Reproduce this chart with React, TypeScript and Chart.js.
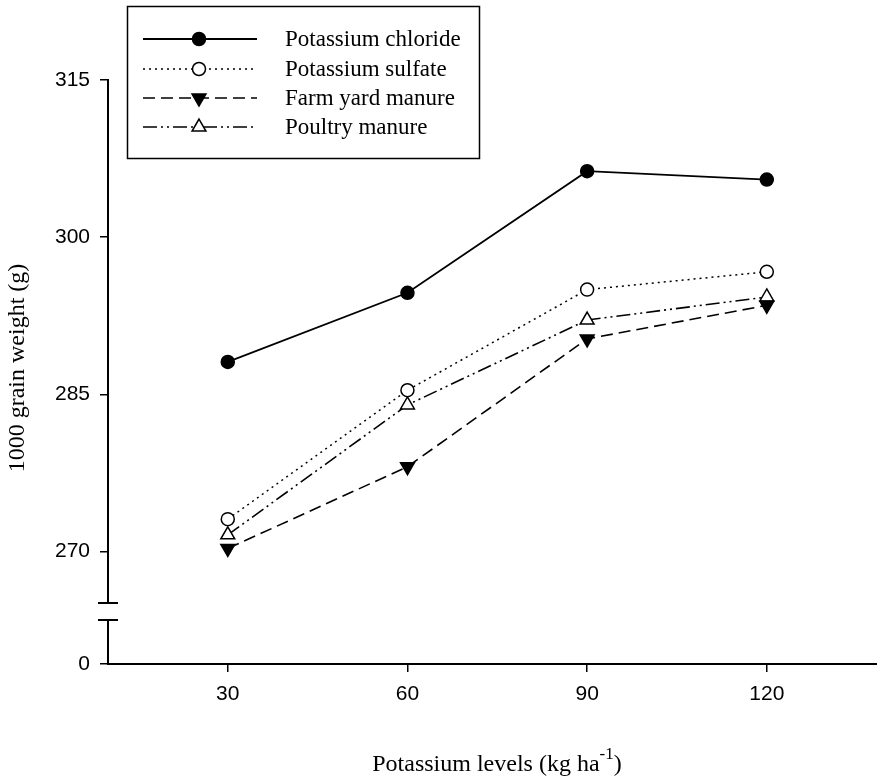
import React, { useEffect, useRef } from "react";
import { Chart, registerables } from "chart.js";
Chart.register(...registerables);

// ---- data ----
const levels = [30, 60, 90, 120];
const potassiumChloride = [288.1, 294.7, 306.3, 305.5];
const potassiumSulfate = [273.1, 285.4, 295.0, 296.7];
const farmYardManure = [270.3, 278.1, 290.3, 293.5];
const poultryManure = [271.6, 284.0, 292.1, 294.3];
const seriesNames = ["Potassium chloride", "Potassium sulfate", "Farm yard manure", "Poultry manure"];
const upperTicks = [270, 285, 300, 315];
const lowerTicks = [0];
const xTicks = [30, 60, 90, 120];
const yTitle = "1000 grain weight (g)";
const xTitleMain = "Potassium levels (kg ha";
const xTitleSup = "-1";
const xTitleEnd = ")";

// ---- styles ----
const styles = [
  { dash: [] as number[], shape: "circle", fill: "#000", radius: 6.5, rot: 0, width: 1.8 },
  { dash: [2, 4], shape: "circle", fill: "#fff", radius: 6.5, rot: 0, width: 1.5 },
  { dash: [12, 6], shape: "triangle", fill: "#000", radius: 8, rot: 180, width: 1.6 },
  { dash: [14, 4, 2, 4, 2, 4], shape: "triangle", fill: "#fff", radius: 8, rot: 0, width: 1.6 },
];

const SERIF = "'Liberation Serif', 'Times New Roman', serif";
const SANS = "'Liberation Sans', Arial, sans-serif";

function drawMarker(ctx: CanvasRenderingContext2D, shape: string, x: number, y: number, r: number, rotDeg: number, fill: string) {
  ctx.save();
  ctx.setLineDash([]);
  ctx.lineWidth = 1.5;
  ctx.strokeStyle = "#000";
  ctx.fillStyle = fill;
  ctx.beginPath();
  if (shape === "circle") {
    ctx.arc(x, y, r, 0, Math.PI * 2);
  } else {
    let rad = (rotDeg * Math.PI) / 180;
    ctx.moveTo(x + Math.sin(rad) * r, y - Math.cos(rad) * r);
    rad += (2 * Math.PI) / 3;
    ctx.lineTo(x + Math.sin(rad) * r, y - Math.cos(rad) * r);
    rad += (2 * Math.PI) / 3;
    ctx.lineTo(x + Math.sin(rad) * r, y - Math.cos(rad) * r);
    ctx.closePath();
  }
  ctx.fill();
  ctx.stroke();
  ctx.restore();
}

const decorPlugin = {
  id: "decor",
  afterDraw(chart: any) {
    const ctx: CanvasRenderingContext2D = chart.ctx;
    const yU = chart.scales.y;
    const area = chart.chartArea;
    const axisX = area.left;
    // axis break
    const b1 = yU.bottom;
    const b2 = b1 + 17;
    ctx.save();
    ctx.fillStyle = "#fff";
    ctx.fillRect(axisX - 3, b1 + 1, 6, b2 - b1 - 2);
    ctx.strokeStyle = "#000";
    ctx.lineWidth = 2;
    ctx.beginPath();
    ctx.moveTo(axisX - 10, b1);
    ctx.lineTo(axisX + 10, b1);
    ctx.moveTo(axisX - 10, b2);
    ctx.lineTo(axisX + 10, b2);
    ctx.stroke();
    ctx.restore();

    // legend
    ctx.save();
    ctx.strokeStyle = "#000";
    ctx.lineWidth = 1.5;
    ctx.fillStyle = "#fff";
    ctx.fillRect(127.5, 6.5, 352, 152);
    ctx.strokeRect(127.5, 6.5, 352, 152);
    const rows = [39, 69, 98, 127];
    seriesNames.forEach((name, i) => {
      const s = styles[i];
      const yy = rows[i];
      ctx.save();
      ctx.strokeStyle = "#000";
      ctx.lineWidth = s.width;
      ctx.setLineDash(s.dash);
      ctx.beginPath();
      ctx.moveTo(143, yy);
      ctx.lineTo(257, yy);
      ctx.stroke();
      ctx.restore();
      drawMarker(ctx, s.shape, 199, yy, s.radius, s.rot, s.fill);
      ctx.fillStyle = "#000";
      ctx.font = `23px ${SERIF}`;
      ctx.textAlign = "left";
      ctx.textBaseline = "middle";
      ctx.fillText(name, 285, yy + 1);
    });
    ctx.restore();

    // axis titles
    ctx.save();
    ctx.fillStyle = "#000";
    ctx.font = `24px ${SERIF}`;
    ctx.translate(24, 368);
    ctx.rotate(-Math.PI / 2);
    ctx.textAlign = "center";
    ctx.textBaseline = "alphabetic";
    ctx.fillText(yTitle, 0, 0);
    ctx.restore();

    ctx.save();
    ctx.fillStyle = "#000";
    ctx.textBaseline = "alphabetic";
    ctx.textAlign = "left";
    ctx.font = `24px ${SERIF}`;
    const w1 = ctx.measureText(xTitleMain).width;
    const w3 = ctx.measureText(xTitleEnd).width;
    ctx.font = `17px ${SERIF}`;
    const w2 = ctx.measureText(xTitleSup).width;
    const total = w1 + w2 + w3;
    const x0 = 497 - total / 2;
    const base = 771;
    ctx.font = `24px ${SERIF}`;
    ctx.fillText(xTitleMain, x0, base);
    ctx.font = `17px ${SERIF}`;
    ctx.fillText(xTitleSup, x0 + w1, base - 12);
    ctx.font = `24px ${SERIF}`;
    ctx.fillText(xTitleEnd, x0 + w1 + w2, base);
    ctx.restore();
  },
};

export default function App() {
  const ref = useRef<HTMLCanvasElement | null>(null);
  useEffect(() => {
    document.body.style.margin = "0";
    const series = [potassiumChloride, potassiumSulfate, farmYardManure, poultryManure];
    const datasets = series.map((vals, i) => {
      const s = styles[i];
      return {
        label: seriesNames[i],
        data: levels.map((x, j) => ({ x, y: vals[j] })),
        yAxisID: "y",
        borderColor: "#000",
        borderWidth: s.width,
        borderDash: s.dash,
        pointStyle: s.shape,
        pointRotation: s.rot,
        pointRadius: s.radius,
        pointBackgroundColor: s.fill,
        pointBorderColor: "#000",
        pointBorderWidth: 1.5,
        tension: 0,
        clip: false as any,
        fill: false,
      };
    });
    const tickFont = { family: SANS, size: 21 };
    const chart = new Chart(ref.current!, {
      type: "line",
      data: { datasets: datasets as any },
      options: {
        animation: false,
        responsive: false,
        layout: { autoPadding: false, padding: { top: 80, left: 0, right: 0, bottom: 0 } },
        plugins: { legend: { display: false }, tooltip: { enabled: false } },
        scales: {
          x: {
            type: "linear",
            min: 10,
            max: 138.4,
            afterBuildTicks: (s: any) => {
              s.ticks = xTicks.map((v) => ({ value: v }));
            },
            afterFit: (s: any) => {
              s.height = 116;
            },
            grid: { drawOnChartArea: false, drawTicks: true, tickLength: 8, color: "#000", lineWidth: 1.5 },
            border: { display: true, color: "#000", width: 2 },
            ticks: { color: "#000", font: tickFont, padding: 10, maxRotation: 0 },
          },
          y0: {
            type: "linear",
            position: "left",
            stack: "v",
            stackWeight: 61,
            min: 0,
            max: 10,
            afterBuildTicks: (s: any) => {
              s.ticks = lowerTicks.map((v) => ({ value: v }));
            },
            afterFit: (s: any) => {
              s.width = 108;
            },
            grid: { drawOnChartArea: false, drawTicks: true, tickLength: 8, color: "#000", lineWidth: 1.5 },
            border: { display: true, color: "#000", width: 2 },
            ticks: { color: "#000", font: tickFont, padding: 10 },
          },
          y: {
            type: "linear",
            position: "left",
            stack: "v",
            stackWeight: 523,
            min: 265.1,
            max: 315,
            afterBuildTicks: (s: any) => {
              s.ticks = upperTicks.map((v) => ({ value: v }));
            },
            afterFit: (s: any) => {
              s.width = 108;
            },
            grid: { drawOnChartArea: false, drawTicks: true, tickLength: 8, color: "#000", lineWidth: 1.5 },
            border: { display: true, color: "#000", width: 2 },
            ticks: { color: "#000", font: tickFont, padding: 10 },
          },
        } as any,
      },
      plugins: [decorPlugin],
    });
    return () => chart.destroy();
  }, []);
  return (
    <div style={{ width: 877, height: 780, background: "#fff" }}>
      <canvas ref={ref} width={877} height={780} />
    </div>
  );
}
